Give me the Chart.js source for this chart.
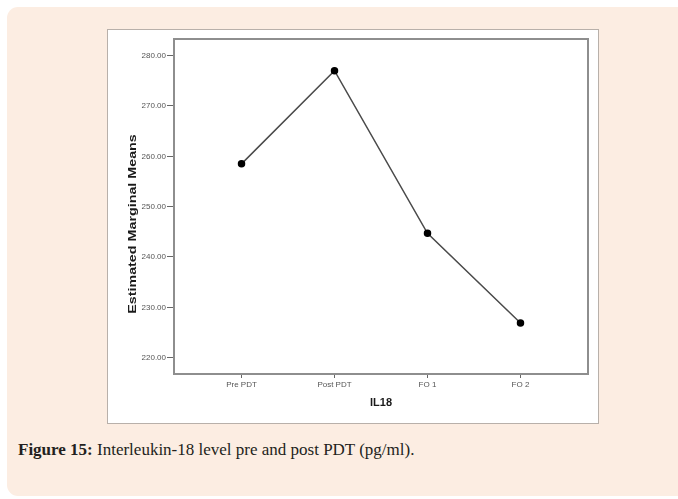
<!DOCTYPE html>
<html>
<head>
<meta charset="utf-8">
<script src="https://cdn.jsdelivr.net/npm/chart.js@4/dist/chart.umd.min.js"></script>
<style>
  html, body { margin: 0; padding: 0; background: #ffffff; }
  body { width: 678px; height: 499px; position: relative; overflow: hidden; }
  .card {
    position: absolute; left: 7px; top: 7px; width: 682px; height: 489px;
    background: #fcede2; border-radius: 11px;
  }
  .figbox {
    position: absolute; left: 107px; top: 29px; width: 490px; height: 393px;
    background: #ffffff; border: 1px solid #b8b0aa;
  }
  .figbox canvas { position: absolute; left: -1px; top: 0px; }
  .caption {
    position: absolute; left: 18px; top: 440px;
    font-family: "Liberation Serif", "Times New Roman", serif;
    font-size: 17px; color: #231f20; white-space: nowrap;
  }
  .caption b { font-weight: bold; }
</style>
</head>
<body>
<div class="card"></div>
<div class="figbox"><canvas id="c" width="492" height="394"></canvas></div>
<div class="caption"><b>Figure 15:</b> Interleukin-18 level pre and post PDT (pg/ml).</div>
<script>
// IL-18 estimated marginal means at each time point
const timePoints = ["Pre PDT", "Post PDT", "FO 1", "FO 2"];
const il18Means = [258.5, 277.0, 244.7, 226.9];
const yTickValues = [220, 230, 240, 250, 260, 270, 280];
const yAxisTitle = "Estimated Marginal Means";
const xAxisTitle = "IL18";

const points = timePoints.map((_, i) => ({ x: i, y: il18Means[i] }));

// frame around the plot area plus the two axis titles
const framePlugin = {
  id: "frame",
  afterDraw(chart) {
    const { ctx, chartArea: a } = chart;
    ctx.save();
    ctx.strokeStyle = "#8e8e8e";
    ctx.lineWidth = 2;
    ctx.strokeRect(a.left, a.top, a.right - a.left, a.bottom - a.top);

    ctx.fillStyle = "#1a1a1a";
    ctx.font = "bold 11px 'Liberation Sans', Arial, sans-serif";
    ctx.textAlign = "center";
    ctx.textBaseline = "middle";
    ctx.fillText(xAxisTitle, (a.left + a.right) / 2, a.bottom + 29);

    // vertical title, drawn in a condensed-height / long style
    ctx.translate(26, a.top + 185);
    ctx.rotate(-Math.PI / 2);
    ctx.scale(1.3, 1);
    ctx.fillText(yAxisTitle, 0, 0);
    ctx.restore();
  }
};

new Chart(document.getElementById("c"), {
  type: "line",
  data: {
    datasets: [{
      data: points,
      borderColor: "#4a4a4a",
      borderWidth: 1.5,
      pointBackgroundColor: "#000000",
      pointBorderColor: "#000000",
      pointRadius: 3,
      pointHoverRadius: 3,
      tension: 0,
      fill: false
    }]
  },
  options: {
    responsive: false,
    animation: false,
    events: [],
    layout: { padding: { top: 9, right: 11, left: 0, bottom: 0 } },
    plugins: { legend: { display: false }, tooltip: { enabled: false } },
    scales: {
      x: {
        type: "linear",
        min: -0.726,
        max: 3.726,
        afterBuildTicks(scale) {
          scale.ticks = timePoints.map((_, i) => ({ value: i }));
        },
        afterFit(scale) { scale.height = 50; },
        ticks: {
          callback: (v) => timePoints[v],
          color: "#555555",
          font: { family: "'Liberation Sans', Arial, sans-serif", size: 8 },
          padding: 2,
          maxRotation: 0,
          autoSkip: false
        },
        grid: { drawOnChartArea: false, tickLength: 4, color: "#666666", lineWidth: 1 },
        border: { display: false }
      },
      y: {
        type: "linear",
        min: 216.76,
        max: 283.3,
        afterBuildTicks(scale) {
          scale.ticks = yTickValues.map((v) => ({ value: v }));
        },
        afterFit(scale) { scale.width = 67; },
        ticks: {
          callback: (v) => v.toFixed(2),
          color: "#555555",
          font: { family: "'Liberation Sans', Arial, sans-serif", size: 8 },
          padding: 1
        },
        grid: { drawOnChartArea: false, tickLength: 7, color: "#666666", lineWidth: 1 },
        border: { display: false }
      }
    }
  },
  plugins: [framePlugin]
});
</script>
</body>
</html>
